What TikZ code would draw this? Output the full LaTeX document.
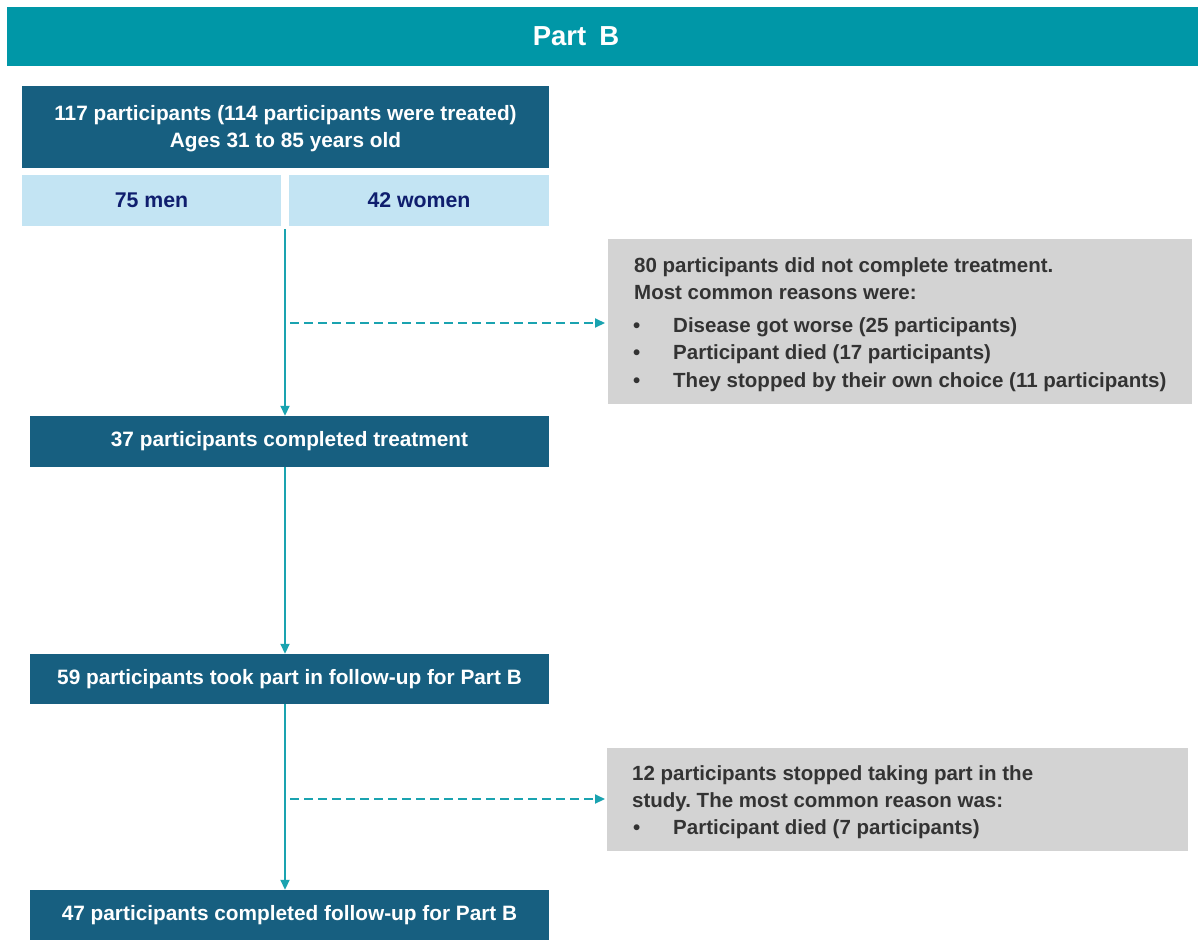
\documentclass[tikz,border=0pt]{standalone}
\usepackage{fontspec}
\setmainfont{Liberation Sans}
\usetikzlibrary{arrows.meta,calc}
\definecolor{hdr}{HTML}{0097A7}
\definecolor{dark}{HTML}{175F80}
\definecolor{lite}{HTML}{C3E4F3}
\definecolor{greybox}{HTML}{D3D3D3}
\definecolor{navy}{HTML}{0F1E6E}
\definecolor{txtgrey}{HTML}{333333}
\definecolor{lineteal}{HTML}{1AA3B0}
\frenchspacing
\tikzset{
  darkbox/.style={fill=dark, text=white, inner sep=0pt, align=center, font=\fontsize{20.8}{27}\selectfont\bfseries},
  litebox/.style={fill=lite, text=navy, inner sep=0pt, align=center, font=\fontsize{21.3}{23}\selectfont\bfseries},
  greyboxst/.style={fill=greybox, inner sep=0pt, anchor=north west},
  greytext/.style={anchor=north west, inner sep=0pt, text=txtgrey, align=left, font=\fontsize{20.5}{27}\selectfont\bfseries},
  flow/.style={draw=lineteal, line width=1.8pt, -{Triangle[length=10pt,width=9pt]}},
  dflow/.style={draw=lineteal, line width=2pt, dash pattern=on 9pt off 5pt, -{Triangle[length=10pt,width=9pt]}}
}
\newcommand{\bul}{\makebox[41pt][l]{\hspace{1pt}\textbullet}}
\begin{document}
\begin{tikzpicture}[x=1pt,y=-1pt]
\useasboundingbox (0,0) rectangle (1198,939);
\fill[white] (0,0) rectangle (1198,939);
% header
\node[fill=hdr, minimum width=1191pt, minimum height=59pt, inner sep=0pt] (hdr) at (602.5,36.5) {};
\node[inner sep=0pt, text=white, font=\fontsize{27.5}{30}\selectfont\bfseries] (hdrt) at (576,36.5) {Part\hspace{13pt}B};
% top box
\node[darkbox, minimum width=527pt, minimum height=82pt] (topbox) at (285.5,127) {};
\node[darkbox] (toptext) at (285.5,129) {117 participants (114 participants were treated)\\Ages 31 to 85 years old};
\node[litebox, minimum width=259pt, minimum height=51pt] (men) at (151.5,200.5) {75 men};
\node[litebox, minimum width=260pt, minimum height=51pt] (women) at (419,200.5) {42 women};
% flow boxes
\node[darkbox, minimum width=519pt, minimum height=51pt] (done) at (289.5,441.5) {37 participants completed treatment};
\node[darkbox, minimum width=519pt, minimum height=50pt] (fu) at (289.5,679) {59 participants took part in follow-up for Part B};
\node[darkbox, minimum width=519pt, minimum height=50pt] (fudone) at (289.5,915) {47 participants completed follow-up for Part B};
% grey boxes
\node[greyboxst, minimum width=584pt, minimum height=165pt] (g1) at (608,239) {};
\node[greytext] (g1t) at (634,257) {80 participants did not complete treatment.\\Most common reasons were:};
\node[greytext, font=\fontsize{20.5}{27.5}\selectfont\bfseries] (g1b) at (632,317) {%
\bul Disease got worse (25 participants)\\
\bul Participant died (17 participants)\\
\bul They stopped by their own choice (11 participants)};
\node[greyboxst, minimum width=581pt, minimum height=103pt] (g2) at (607,748) {};
\node[greytext] (g2t) at (632,765) {12 participants stopped taking part in the\\study. The most common reason was:\\\bul Participant died (7 participants)};
% connectors
\coordinate (split) at (285,229);
\coordinate (d1) at (290,323);
\coordinate (d2) at (290,799);
\draw[flow] (split) -- (split |- done.north);
\draw[flow] (split |- done.south) -- (split |- fu.north);
\draw[flow] (split |- fu.south) -- (split |- fudone.north);
\draw[dflow] (d1) -- ($(d1 -| g1.west)+(-3,0)$);
\draw[dflow] (d2) -- ($(d2 -| g2.west)+(-2,0)$);
\end{tikzpicture}
\end{document}
